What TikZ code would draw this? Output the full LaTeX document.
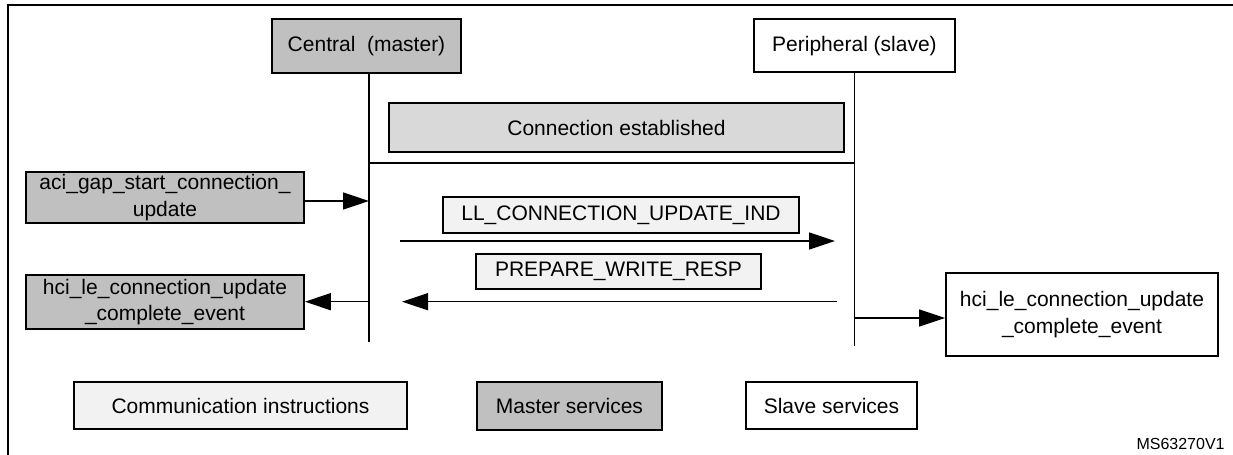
\documentclass[tikz,border=0pt]{standalone}
\usepackage{fontspec}
\setmainfont{Liberation Sans}
\usetikzlibrary{arrows.meta}
\definecolor{mgray}{HTML}{C0C0C0}
\definecolor{cgray}{HTML}{D9D9D9}
\definecolor{lgray}{HTML}{F2F2F2}
\begin{document}
\begin{tikzpicture}[x=0.5pt,y=-0.5pt,
  box/.style={draw, line width=0.9pt, inner sep=0pt, align=center, font=\fontsize{10.5}{13.3}\selectfont},
  msg/.style={line width=0.75pt, -{Triangle[length=13pt,width=8.5pt]}},
  life/.style={line width=0.75pt},
  frame/.style={line width=1.2pt}]
\useasboundingbox (0,0) rectangle (1233,455);
% frame
\coordinate (fb) at (8,455);
\coordinate (ftl) at (8,5);
\coordinate (ftr) at (1233,5);
\draw[frame] (fb) -- (ftl) -- (ftr);
% heads
\node[box, fill=mgray, minimum width=94.5pt, minimum height=26.85pt] (central) at (366.5,45.9) {Central\ \ (master)};
\node[box, minimum width=100.5pt, minimum height=26.65pt] (periph) at (854.5,45.7) {Peripheral (slave)};
\node[box, fill=cgray, minimum width=227.5pt, minimum height=24.8pt] (conn) at (616.5,127.5) {Connection established};
% lifelines
\coordinate (cend) at (369,342);
\coordinate (pend) at (854.5,346);
\draw[life] (cend |- central.south) -- (cend);
\draw[life] (periph.south) -- (pend);
\coordinate (hl1) at (369,163);
\coordinate (hl2) at (854.5,163);
\draw[life] (hl1) -- (hl2);
% messages
\node[box, fill=mgray, minimum width=139pt, minimum height=25.5pt] (aci) at (165,197.5) {aci\_gap\_start\_connection\_\\update};
\node[box, fill=mgray, minimum width=139pt, minimum height=27pt] (hcil) at (165,302) {hci\_le\_connection\_update\\\_complete\_event};
\node[box, fill=lgray, minimum width=178pt, minimum height=18pt] (ll) at (621,215) {LL\_CONNECTION\_UPDATE\_IND};
\node[box, fill=lgray, minimum width=142.5pt, minimum height=17.5pt] (pr) at (618.5,271.5) {PREPARE\_WRITE\_RESP};
\node[box, minimum width=136pt, minimum height=41.5pt] (hcir) at (1082,314.5) {hci\_le\_connection\_update\\\_complete\_event};
\draw[msg] (aci.east |- 0,201) -- (cend |- 0,201);
\draw[msg] (cend |- 0,301.7) -- (hcil.east |- 0,301.7);
\coordinate (llA) at (400,241);
\coordinate (llB) at (835,241);
\draw[msg] (llA) -- (llB);
\coordinate (prA) at (837,301.7);
\coordinate (prB) at (402,301.7);
\draw[msg] (prA) -- (prB);
\draw[msg] (pend |- 0,318) -- (hcir.west |- 0,318);
% legend
\node[box, fill=lgray, minimum width=166.5pt, minimum height=23.5pt] (comm) at (240.5,405.5) {Communication instructions};
\node[box, fill=mgray, minimum width=92.5pt, minimum height=24pt] (master) at (569.5,406) {Master services};
\node[box, minimum width=85.5pt, minimum height=23.5pt] (slave) at (831.5,405.5) {Slave services};
\node[anchor=east, font=\fontsize{8}{9}\selectfont, inner sep=0pt] (ms) at (1225,444) {MS63270V1};
\end{tikzpicture}
\end{document}
